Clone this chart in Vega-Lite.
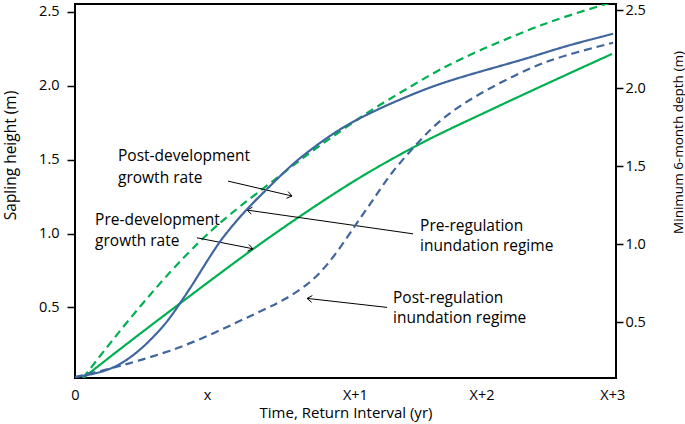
{
  "$schema": "https://vega.github.io/schema/vega-lite/v6.json",
  "width": 541,
  "height": 374,
  "autosize": {"type": "none"},
  "padding": {"left": 75, "top": 4, "right": 69, "bottom": 46},
  "background": "white",
  "config": {
    "view": {"stroke": "black", "strokeWidth": 2},
    "font": "Open Sans",
    "axis": {
      "labelFont": "Open Sans",
      "titleFont": "Open Sans",
      "labelFontSize": 14.5,
      "titleFontSize": 14,
      "titleFontWeight": "normal",
      "labelColor": "black",
      "titleColor": "black",
      "tickColor": "black",
      "grid": false,
      "domain": false
    }
  },
  "datasets": {
    "green": [
      {"series": "Post-development growth rate", "t": 0.061, "h": 0.022},
      {"series": "Post-development growth rate", "t": 0.265, "h": 0.258},
      {"series": "Post-development growth rate", "t": 0.492, "h": 0.507},
      {"series": "Post-development growth rate", "t": 0.720, "h": 0.742},
      {"series": "Post-development growth rate", "t": 0.947, "h": 0.951},
      {"series": "Post-development growth rate", "t": 1.098, "h": 1.072},
      {"series": "Post-development growth rate", "t": 1.250, "h": 1.186},
      {"series": "Post-development growth rate", "t": 1.500, "h": 1.355},
      {"series": "Post-development growth rate", "t": 1.758, "h": 1.536},
      {"series": "Post-development growth rate", "t": 2.008, "h": 1.691},
      {"series": "Post-development growth rate", "t": 2.258, "h": 1.846},
      {"series": "Post-development growth rate", "t": 2.515, "h": 1.980},
      {"series": "Post-development growth rate", "t": 2.765, "h": 2.115},
      {"series": "Post-development growth rate", "t": 3.068, "h": 2.243},
      {"series": "Post-development growth rate", "t": 3.447, "h": 2.384},
      {"series": "Post-development growth rate", "t": 3.697, "h": 2.465},
      {"series": "Post-development growth rate", "t": 4.068, "h": 2.566},
      {"series": "Pre-development growth rate", "t": 0.061, "h": 0.022},
      {"series": "Pre-development growth rate", "t": 0.417, "h": 0.271},
      {"series": "Pre-development growth rate", "t": 0.795, "h": 0.527},
      {"series": "Pre-development growth rate", "t": 1.326, "h": 0.884},
      {"series": "Pre-development growth rate", "t": 1.705, "h": 1.119},
      {"series": "Pre-development growth rate", "t": 2.106, "h": 1.355},
      {"series": "Pre-development growth rate", "t": 2.400, "h": 1.505},
      {"series": "Pre-development growth rate", "t": 2.689, "h": 1.645},
      {"series": "Pre-development growth rate", "t": 3.000, "h": 1.775},
      {"series": "Pre-development growth rate", "t": 3.500, "h": 1.985},
      {"series": "Pre-development growth rate", "t": 4.068, "h": 2.216}
    ],
    "blue": [
      {"series": "Pre-regulation inundation regime", "t": 0.0, "d": 0.149},
      {"series": "Pre-regulation inundation regime", "t": 0.189, "d": 0.175},
      {"series": "Pre-regulation inundation regime", "t": 0.341, "d": 0.226},
      {"series": "Pre-regulation inundation regime", "t": 0.492, "d": 0.321},
      {"series": "Pre-regulation inundation regime", "t": 0.591, "d": 0.404},
      {"series": "Pre-regulation inundation regime", "t": 0.697, "d": 0.5},
      {"series": "Pre-regulation inundation regime", "t": 0.795, "d": 0.621},
      {"series": "Pre-regulation inundation regime", "t": 0.886, "d": 0.736},
      {"series": "Pre-regulation inundation regime", "t": 0.970, "d": 0.851},
      {"series": "Pre-regulation inundation regime", "t": 1.098, "d": 1.023},
      {"series": "Pre-regulation inundation regime", "t": 1.212, "d": 1.138},
      {"series": "Pre-regulation inundation regime", "t": 1.303, "d": 1.227},
      {"series": "Pre-regulation inundation regime", "t": 1.455, "d": 1.355},
      {"series": "Pre-regulation inundation regime", "t": 1.629, "d": 1.500},
      {"series": "Pre-regulation inundation regime", "t": 1.758, "d": 1.590},
      {"series": "Pre-regulation inundation regime", "t": 2.008, "d": 1.744},
      {"series": "Pre-regulation inundation regime", "t": 2.258, "d": 1.852},
      {"series": "Pre-regulation inundation regime", "t": 2.515, "d": 1.948},
      {"series": "Pre-regulation inundation regime", "t": 2.765, "d": 2.031},
      {"series": "Pre-regulation inundation regime", "t": 3.068, "d": 2.107},
      {"series": "Pre-regulation inundation regime", "t": 3.447, "d": 2.196},
      {"series": "Pre-regulation inundation regime", "t": 3.697, "d": 2.267},
      {"series": "Pre-regulation inundation regime", "t": 4.076, "d": 2.349},
      {"series": "Post-regulation inundation regime", "t": 0.0, "d": 0.149},
      {"series": "Post-regulation inundation regime", "t": 0.288, "d": 0.207},
      {"series": "Post-regulation inundation regime", "t": 0.470, "d": 0.251},
      {"series": "Post-regulation inundation regime", "t": 0.720, "d": 0.315},
      {"series": "Post-regulation inundation regime", "t": 0.970, "d": 0.398},
      {"series": "Post-regulation inundation regime", "t": 1.227, "d": 0.5},
      {"series": "Post-regulation inundation regime", "t": 1.455, "d": 0.590},
      {"series": "Post-regulation inundation regime", "t": 1.576, "d": 0.640},
      {"series": "Post-regulation inundation regime", "t": 1.758, "d": 0.735},
      {"series": "Post-regulation inundation regime", "t": 1.909, "d": 0.860},
      {"series": "Post-regulation inundation regime", "t": 2.061, "d": 1.042},
      {"series": "Post-regulation inundation regime", "t": 2.182, "d": 1.195},
      {"series": "Post-regulation inundation regime", "t": 2.288, "d": 1.320},
      {"series": "Post-regulation inundation regime", "t": 2.386, "d": 1.450},
      {"series": "Post-regulation inundation regime", "t": 2.614, "d": 1.670},
      {"series": "Post-regulation inundation regime", "t": 2.788, "d": 1.815},
      {"series": "Post-regulation inundation regime", "t": 3.045, "d": 1.960},
      {"series": "Post-regulation inundation regime", "t": 3.447, "d": 2.133},
      {"series": "Post-regulation inundation regime", "t": 3.697, "d": 2.209},
      {"series": "Post-regulation inundation regime", "t": 4.076, "d": 2.292}
    ],
    "arrows": [
      {"t": 1.159, "h": 1.355, "t2": 1.644, "h2": 1.254},
      {"t": 1.614, "h": 1.284, "t2": 1.644, "h2": 1.254},
      {"t": 1.602, "h": 1.239, "t2": 1.644, "h2": 1.254},
      {"t": 0.924, "h": 0.971, "t2": 1.348, "h2": 0.897},
      {"t": 1.317, "h": 0.926, "t2": 1.348, "h2": 0.897},
      {"t": 1.307, "h": 0.881, "t2": 1.348, "h2": 0.897},
      {"t": 2.561, "h": 0.998, "t2": 1.303, "h2": 1.159},
      {"t": 1.336, "h": 1.132, "t2": 1.303, "h2": 1.159},
      {"t": 1.344, "h": 1.178, "t2": 1.303, "h2": 1.159},
      {"t": 2.364, "h": 0.5, "t2": 1.758, "h2": 0.561},
      {"t": 1.792, "h": 0.534, "t2": 1.758, "h2": 0.561},
      {"t": 1.798, "h": 0.580, "t2": 1.758, "h2": 0.561}
    ],
    "labels": [
      {"t": 0.326, "h": 1.523, "text": "Post-development"},
      {"t": 0.326, "h": 1.375, "text": "growth rate"},
      {"t": 0.152, "h": 1.092, "text": "Pre-development"},
      {"t": 0.152, "h": 0.951, "text": "growth rate"},
      {"t": 2.614, "h": 1.052, "text": "Pre-regulation"},
      {"t": 2.614, "h": 0.917, "text": "inundation regime"},
      {"t": 2.409, "h": 0.561, "text": "Post-regulation"},
      {"t": 2.409, "h": 0.426, "text": "inundation regime"}
    ]
  },
  "layer": [
    {
      "layer": [
        {
          "data": {"name": "green"},
          "mark": {"type": "line", "strokeWidth": 2.2, "clip": true, "interpolate": "basis"},
          "encoding": {
            "x": {
              "field": "t", "type": "quantitative",
              "scale": {"domain": [0, 4.098], "nice": false, "zero": false},
              "axis": {
                "values": [0, 1, 2.12, 3.08, 4.07],
                "labelExpr": "datum.value == 0 ? '0' : datum.value == 1 ? 'x' : datum.value < 2.5 ? 'X+1' : datum.value < 3.5 ? 'X+2' : 'X+3'",
                "ticks": false,
                "tickSize": 0,
                "labelPadding": 10,
                "labelFlush": false,
                "labelOverlap": false,
                "labelFontSize": 14.5,
                "titleFontSize": 15,
                "title": "Time, Return Interval (yr)",
                "titlePadding": 4
              }
            },
            "y": {
              "field": "h", "type": "quantitative",
              "scale": {"domain": [0.022, 2.554], "nice": false, "zero": false},
              "axis": {
                "orient": "left",
                "values": [0.5, 1.0, 1.5, 2.0, 2.5],
                "format": ".1f",
                "tickSize": 8,
                "tickWidth": 1.5,
                "labelPadding": 8,
                "labelFontSize": 14.5,
                "titleFontSize": 15.5,
                "title": "Sapling height (m)",
                "titleX": -65,
                "titleY": 151,
                "titleAngle": -90,
                "titleBaseline": "middle"
              }
            },
            "color": {
              "field": "series", "type": "nominal",
              "scale": {"domain": ["Post-development growth rate", "Pre-development growth rate"], "range": ["#00b050", "#00b050"]},
              "legend": null
            },
            "strokeDash": {
              "field": "series", "type": "nominal",
              "scale": {"domain": ["Post-development growth rate", "Pre-development growth rate"], "range": [[8, 5], [1, 0]]},
              "legend": null
            }
          }
        },
        {
          "data": {"name": "arrows"},
          "mark": {"type": "rule", "color": "black", "strokeWidth": 1},
          "encoding": {
            "x": {"field": "t", "type": "quantitative"},
            "y": {"field": "h", "type": "quantitative"},
            "x2": {"field": "t2"},
            "y2": {"field": "h2"}
          }
        },
        {
          "data": {"name": "labels"},
          "mark": {"type": "text", "align": "left", "baseline": "middle", "fontSize": 15.5, "font": "Open Sans", "color": "black"},
          "encoding": {
            "x": {"field": "t", "type": "quantitative"},
            "y": {"field": "h", "type": "quantitative"},
            "text": {"field": "text"}
          }
        }
      ]
    },
    {
      "data": {"name": "blue"},
      "mark": {"type": "line", "strokeWidth": 2.2, "clip": true, "interpolate": "basis"},
      "encoding": {
        "x": {
          "field": "t", "type": "quantitative",
          "axis": {
            "values": [0, 1, 2.12, 3.08, 4.07],
            "labelExpr": "datum.value == 0 ? '0' : datum.value == 1 ? 'x' : datum.value < 2.5 ? 'X+1' : datum.value < 3.5 ? 'X+2' : 'X+3'",
            "ticks": false,
            "tickSize": 0,
            "labelPadding": 10,
            "labelFlush": false,
            "labelOverlap": false,
            "labelFontSize": 14.5,
            "titleFontSize": 15,
            "title": "Time, Return Interval (yr)",
            "titlePadding": 4
          }
        },
        "y": {
          "field": "d", "type": "quantitative",
          "scale": {"domain": [0.143, 2.54], "nice": false, "zero": false},
          "axis": {
            "orient": "right",
            "values": [0.5, 1.0, 1.5, 2.0, 2.5],
            "format": ".1f",
            "tickSize": 7,
            "tickWidth": 1.5,
            "labelPadding": 2,
            "labelFontSize": 14.5,
            "titleFontSize": 13.5,
            "title": "Minimum 6-month depth (m)",
            "titleX": 62,
            "titleY": 138,
            "titleAngle": -90,
            "titleBaseline": "middle"
          }
        },
        "color": {
          "field": "series", "type": "nominal",
          "scale": {"domain": ["Pre-regulation inundation regime", "Post-regulation inundation regime"], "range": ["#40669e", "#40669e"]},
          "legend": null
        },
        "strokeDash": {
          "field": "series", "type": "nominal",
          "scale": {"domain": ["Pre-regulation inundation regime", "Post-regulation inundation regime"], "range": [[1, 0], [8, 5]]},
          "legend": null
        }
      }
    }
  ],
  "resolve": {"scale": {"y": "independent", "color": "independent", "strokeDash": "independent"}}
}
